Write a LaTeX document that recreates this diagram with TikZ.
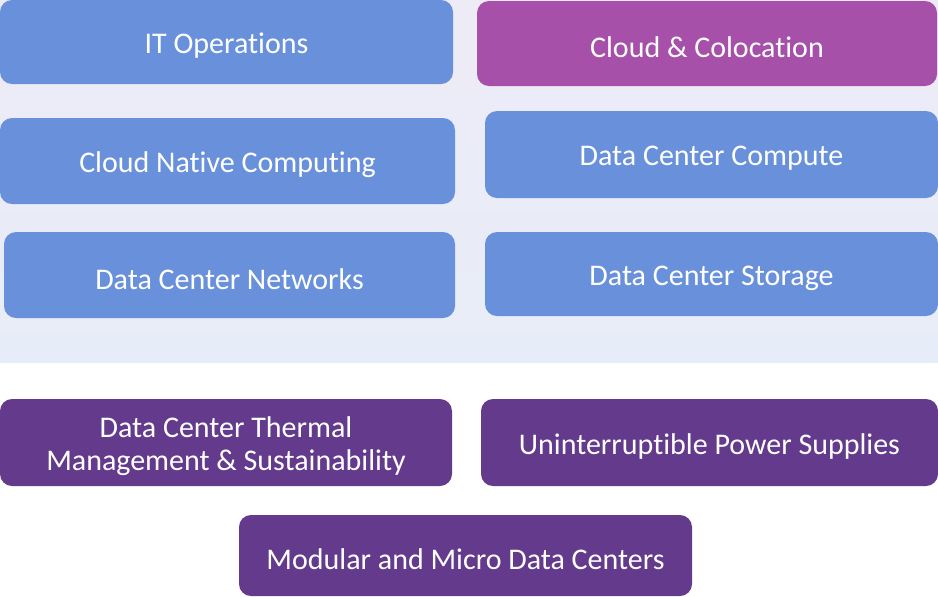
\documentclass[tikz,border=0pt]{standalone}
\usepackage{fontspec}
\newfontfamily\carlito[Ligatures=NoCommon]{Carlito}
\usepackage{tikz}
\usetikzlibrary{positioning,fit,backgrounds}

\definecolor{tileblue}{HTML}{6991DB}
\definecolor{tilemagenta}{HTML}{A650A9}
\definecolor{tilepurple}{HTML}{643A8C}
\definecolor{bandtop}{HTML}{EDEBF6}
\definecolor{bandbottom}{HTML}{E7EDF8}

\begin{document}
\begin{tikzpicture}[
    x=0.5pt, y=-0.5pt,
    font=\carlito\fontsize{15}{16.5}\selectfont,
    tile/.style={rectangle, rounded corners=6pt, inner sep=0pt},
    cloudtile/.style={tile, fill=tileblue},
    hosttile/.style={tile, fill=tilemagenta},
    infratile/.style={tile, fill=tilepurple},
    caption/.style={text=white, align=center, inner sep=0pt, yshift=-2pt}
]
    \useasboundingbox (0,0) rectangle (938,596);

    % --- 1. Background band ---
    \shade[top color=bandtop, bottom color=bandbottom] (0,0) rectangle (938,362);

    % --- 2. IT and cloud tiles (inside the band) ---
    \node[cloudtile, fit={(0,0) (453,84)}] (itops) {};
    \node[hosttile, fit={(477,1) (937,86)}] (colo) {};
    \node[cloudtile, fit={(0,118) (455,204)}] (native) {};
    \node[cloudtile, fit={(485,111) (938,198)}] (compute) {};
    \node[cloudtile, fit={(4,232) (455,318)}] (networks) {};
    \node[cloudtile, fit={(485,232) (938,316)}] (storage) {};

    % --- 3. Infrastructure tiles (below the band) ---
    \node[infratile, fit={(0,399) (452,486)}] (thermal) {};
    \node[infratile, fit={(481,399) (938,486)}] (ups) {};
    \node[infratile, fit={(239,515) (692,596)}] (modular) {};

    % --- 4. Captions ---
    \node[caption] (itops-txt) at (itops) {IT Operations};
    \node[caption] (colo-txt) at (colo) {Cloud \& Colocation};
    \node[caption] (native-txt) at (native) {Cloud Native Computing};
    \node[caption] (compute-txt) at (compute) {Data Center Compute};
    \node[caption] (networks-txt) at (networks) {Data Center Networks};
    \node[caption] (storage-txt) at (storage) {Data Center Storage};
    \node[caption] (thermal-txt) at (thermal) {Data Center Thermal\\Management \& Sustainability};
    \node[caption] (ups-txt) at (ups) {Uninterruptible Power Supplies};
    \node[caption] (modular-txt) at (modular) {Modular and Micro Data Centers};

\end{tikzpicture}
\end{document}
